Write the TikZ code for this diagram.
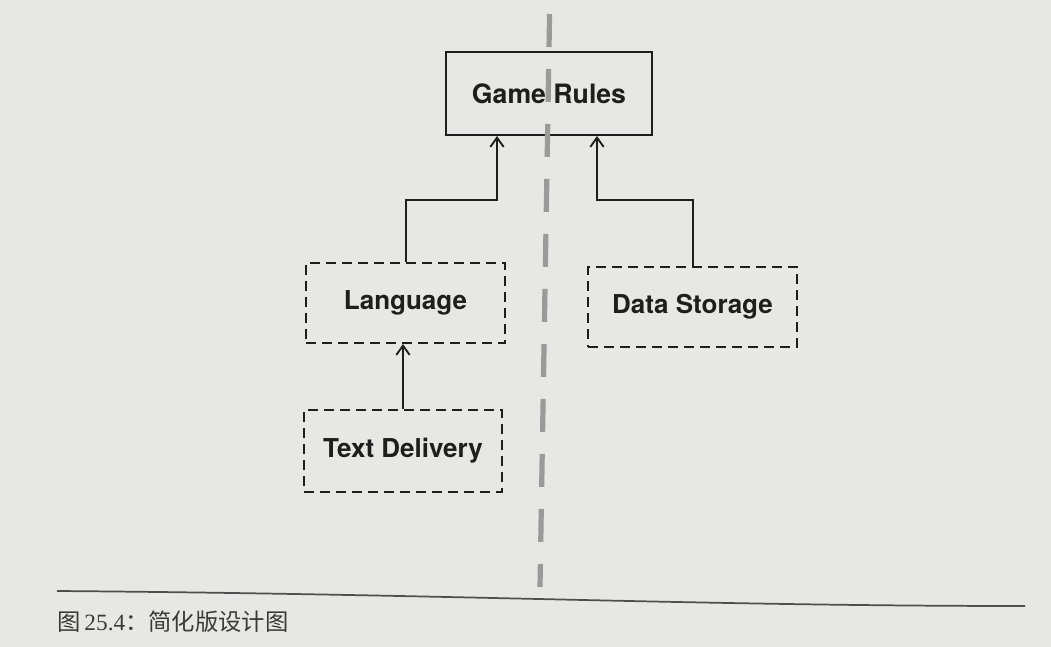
\documentclass[tikz,border=0pt]{standalone}
\usepackage{fontspec}
\usetikzlibrary{arrows.meta,calc}
\newfontfamily\heros{TeX Gyre Heros}
\newfontfamily\cjk{Noto Sans CJK SC}
\newfontfamily\lserif{Liberation Serif}
\definecolor{paper}{HTML}{E7E7E5}
\definecolor{ink}{HTML}{1E1E1E}
\definecolor{divider}{HTML}{9A9A9A}
\definecolor{captionc}{HTML}{3A3A3A}
\tikzset{
  solidbox/.style={draw=ink, line width=1.5pt, minimum width=206*0.75pt, minimum height=83*0.75pt,
    font=\heros\bfseries\fontsize{20pt}{22pt}\selectfont, text=ink, inner sep=0pt},
  dashbox/.style={draw=ink, line width=1.5pt, dash pattern=on 7.5pt off 4.5pt,
    minimum height=80*0.75pt, font=\heros\bfseries\fontsize{19.5pt}{22pt}\selectfont, text=ink, inner sep=0pt},
  arr/.style={draw=ink, line width=1.5pt, -{Straight Barb[length=7pt,width=10pt,line width=1.4pt]}},
  midline/.style={draw=divider, line width=3.9pt, dash pattern=on 24.75pt off 16.5pt},
  rule/.style={draw=captionc!90, line width=1.3pt},
}
\begin{document}
\begin{tikzpicture}[x=0.75pt,y=-0.75pt]
\fill[paper] (0,0) rectangle (1051,647);
\useasboundingbox (0,0) rectangle (1051,647);

\node[solidbox] (gr) at (549,93.5) {Game Rules};
\node[dashbox, minimum width=199*0.75pt] (lang) at (405.5,303) {Language};
\node[dashbox, minimum width=209*0.75pt] (ds) at (692.5,307) {Data Storage};
\node[dashbox, minimum width=198*0.75pt, minimum height=82*0.75pt] (td) at (403,451) {Text Delivery};

\coordinate (j1) at (497,200);
\coordinate (j2) at (597,200);
\draw[arr] (lang.north) |- (j1) -- (j1 |- gr.south);
\draw[arr] (ds.north) |- (j2) -- (j2 |- gr.south);
\draw[arr] (td.north) -- (td.north |- lang.south);

\coordinate (mtop) at (550.5,-41);
\coordinate (mbot) at (540,587);
\draw[midline] (mtop) -- (mbot);

\coordinate (r1) at (57,591);
\coordinate (r2) at (1025,606);
\draw[rule] (r1) .. controls (450,594) and (700,606) .. (r2);

\node[anchor=west, text=captionc, inner sep=0pt, font=\fontsize{17.5pt}{19pt}\selectfont] (cap) at (57,622)
  {\cjk 图\,\lserif 25.4\cjk ：简化版设计图};
\end{tikzpicture}
\end{document}
